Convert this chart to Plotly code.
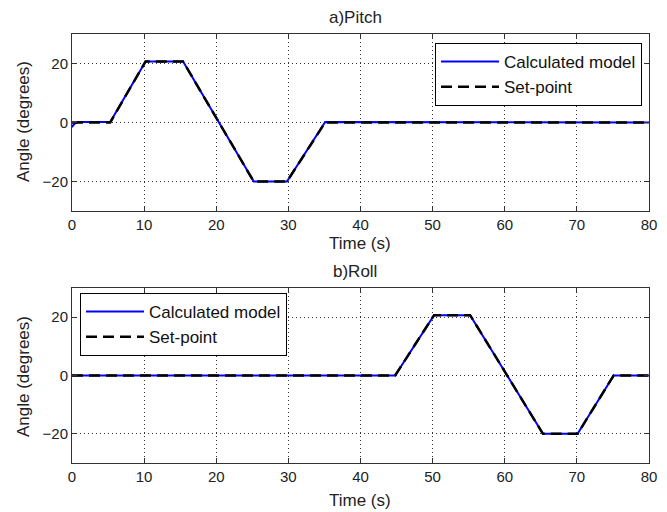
import plotly.graph_objects as go

# ---- data ----
pitch_set_t = [0, 5.3, 10.2, 15.4, 25.2, 29.8, 35.1, 80]
pitch_set_v = [0, 0, 20.7, 20.7, -20, -20, 0, 0]
pitch_mod_t = [0, 0.2, 0.5, 1.0, 5.3, 10.2, 15.4, 25.2, 29.8, 35.1, 80]
pitch_mod_v = [-1.6, -0.8, -0.2, 0.2, 0.2, 20.7, 20.7, -20, -20, 0.2, 0]

roll_set_t = [0, 44.8, 50.2, 55.2, 65.3, 70.1, 75.1, 80]
roll_set_v = [0, 0, 20.7, 20.7, -20, -20, 0, 0]
roll_mod_t = [0, 44.8, 50.2, 55.2, 65.3, 70.1, 75.1, 80]
roll_mod_v = [0, 0, 20.7, 20.7, -20, -20, 0, 0]

x_ticks = [0, 10, 20, 30, 40, 50, 60, 70, 80]
y_ticks = [-20, 0, 20]

W, H = 667, 512
FONT = "Liberation Sans, Arial, sans-serif"

fig = go.Figure()

blue = dict(color="#0000FF", width=2)
black = dict(color="#000000", width=2.5, dash="11px,6px")

fig.add_trace(go.Scatter(x=pitch_mod_t, y=pitch_mod_v, mode="lines", line=blue,
                         name="Calculated model", xaxis="x", yaxis="y", legend="legend"))
fig.add_trace(go.Scatter(x=pitch_set_t, y=pitch_set_v, mode="lines", line=black,
                         name="Set-point", xaxis="x", yaxis="y", legend="legend"))
fig.add_trace(go.Scatter(x=roll_mod_t, y=roll_mod_v, mode="lines", line=blue,
                         name="Calculated model", xaxis="x2", yaxis="y2", legend="legend2"))
fig.add_trace(go.Scatter(x=roll_set_t, y=roll_set_v, mode="lines", line=black,
                         name="Set-point", xaxis="x2", yaxis="y2", legend="legend2"))

xd = [72 / W, 649 / W]
top_d = [1 - 211 / H, 1 - 34 / H]
bot_d = [1 - 463 / H, 1 - 288 / H]

axis_common = dict(
    showline=True, linecolor="#333333", linewidth=1, mirror="ticks",
    ticks="inside", ticklen=5, tickcolor="#333333",
    showgrid=True, gridcolor="#333333", griddash="1px,3px", gridwidth=1,
    zeroline=False, tickfont=dict(family=FONT, size=15, color="#222222"),
    automargin=False,
)

leg_font = dict(family=FONT, size=17, color="#111111")

fig.update_layout(
    width=W, height=H,
    margin=dict(l=0, r=0, t=0, b=0),
    paper_bgcolor="white", plot_bgcolor="white",
    font=dict(family=FONT, size=17, color="#222222"),
    xaxis=dict(domain=xd, anchor="y", range=[0, 80], tickvals=x_ticks, **axis_common),
    yaxis=dict(domain=top_d, anchor="x", range=[-30, 30], tickvals=y_ticks, **axis_common),
    xaxis2=dict(domain=xd, anchor="y2", range=[0, 80], tickvals=x_ticks, **axis_common),
    yaxis2=dict(domain=bot_d, anchor="x2", range=[-30, 30], tickvals=y_ticks, **axis_common),
    legend=dict(x=642 / W, y=1 - 43 / H, xanchor="right", yanchor="top",
                bordercolor="#000000", borderwidth=1, bgcolor="white",
                font=leg_font, itemwidth=58, tracegroupgap=0),
    legend2=dict(x=80 / W, y=1 - 293 / H, xanchor="left", yanchor="top",
                 bordercolor="#000000", borderwidth=1, bgcolor="white",
                 font=leg_font, itemwidth=58, tracegroupgap=0),
    showlegend=True,
)

ann = [
    dict(text="a)Pitch", x=355 / W, y=1 - 17 / H),
    dict(text="b)Roll", x=355 / W, y=1 - 271 / H),
    dict(text="Time (s)", x=360 / W, y=1 - 243 / H),
    dict(text="Time (s)", x=360 / W, y=1 - 500 / H),
    dict(text="Angle (degrees)", x=23 / W, y=1 - 122 / H, textangle=-90),
    dict(text="Angle (degrees)", x=23 / W, y=1 - 377 / H, textangle=-90),
]
for a in ann:
    fig.add_annotation(xref="paper", yref="paper", showarrow=False,
                       xanchor="center", yanchor="middle",
                       font=dict(family=FONT, size=17, color="#222222"), **a)

fig.write_html("out.html", config={"displayModeBar": False},
               post_script="document.body.style.margin='0';document.body.style.overflow='hidden';")
